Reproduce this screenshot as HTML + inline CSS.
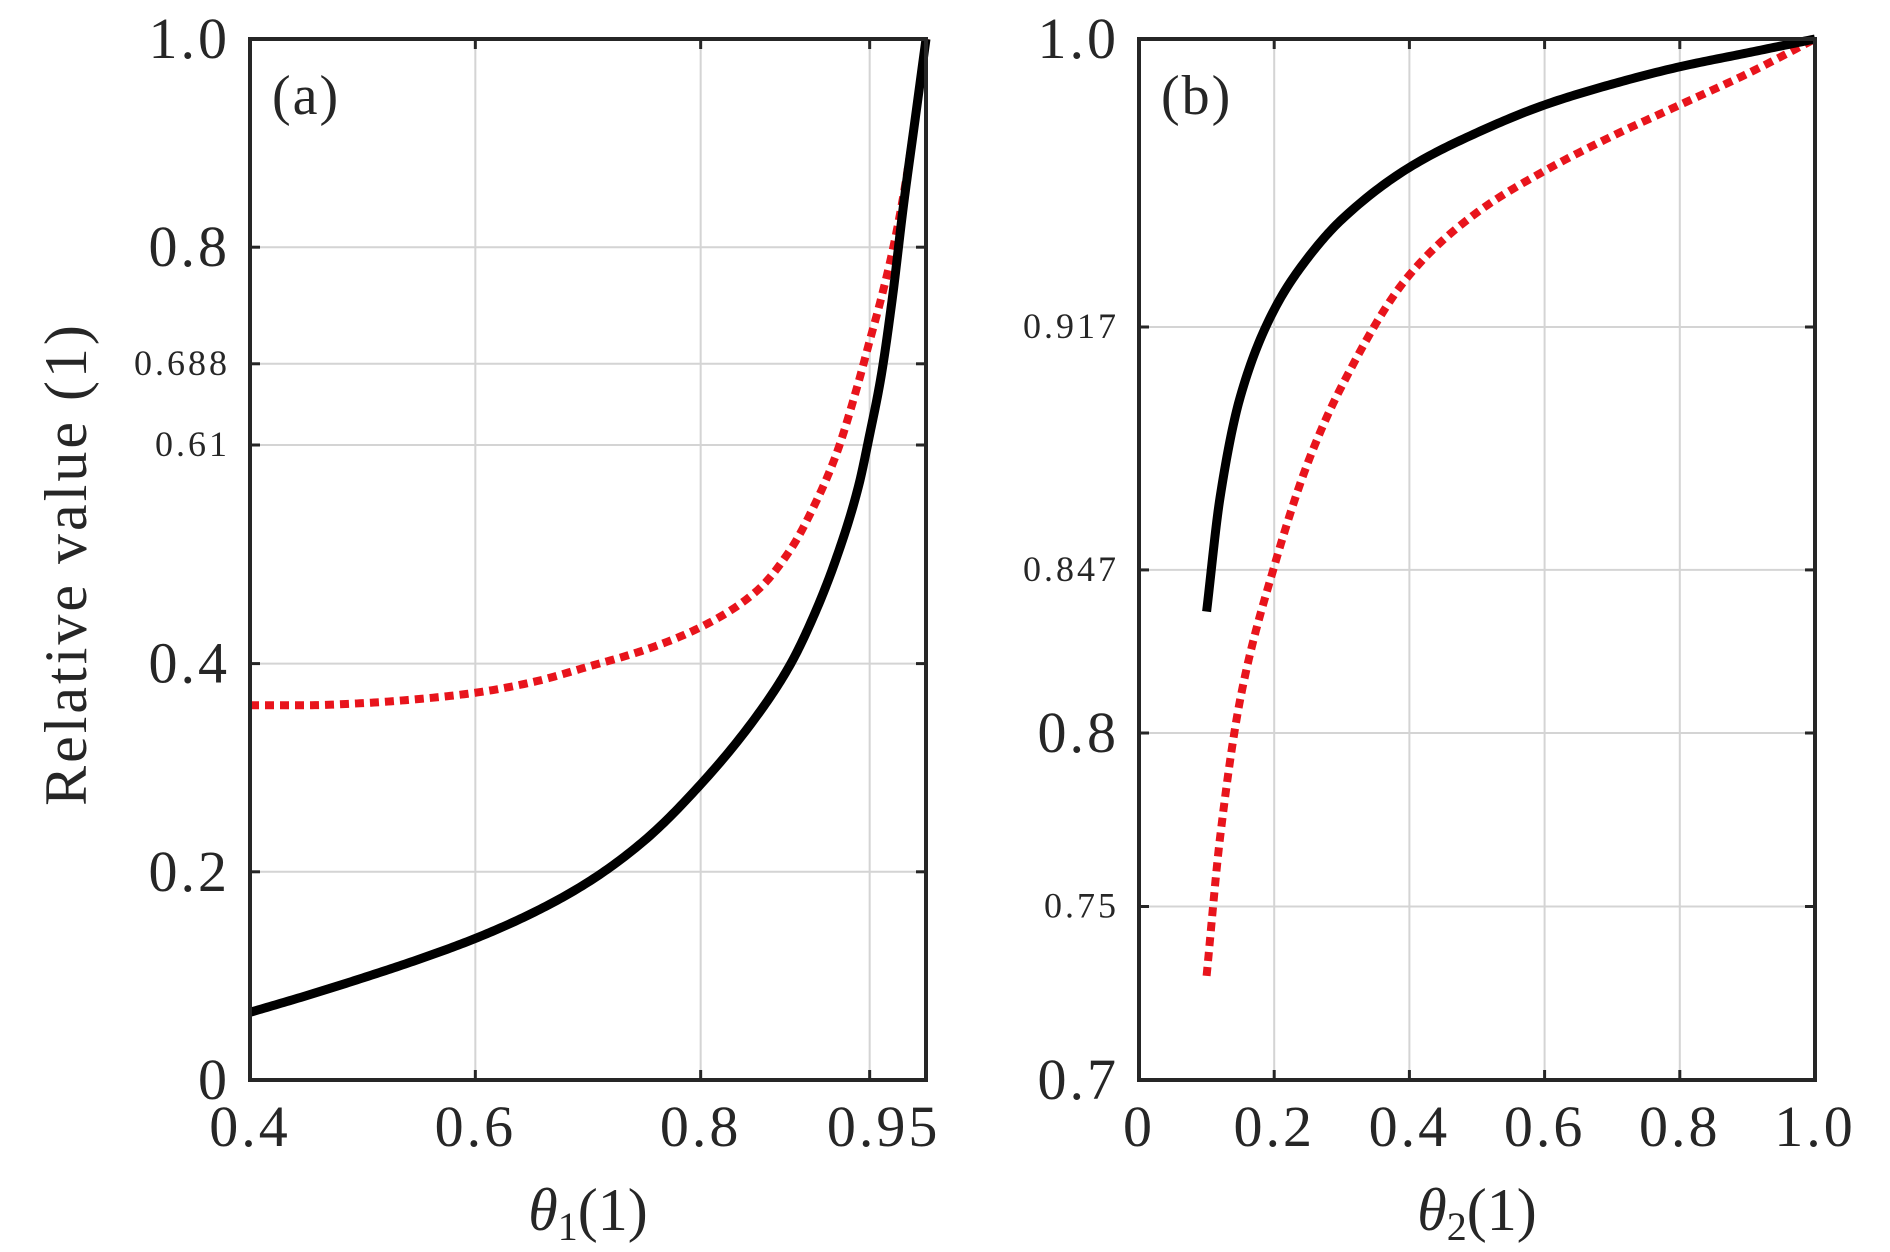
<!DOCTYPE html>
<html><head><meta charset="utf-8">
<style>
html,body{margin:0;padding:0;background:#fff;}
svg{display:block;font-family:"Liberation Serif",serif;}
</style></head>
<body>
<svg id="chart" width="1890" height="1252" viewBox="0 0 1890 1252"></svg>
<script>
// Panel (a)
const aX = [0.4,0.45,0.5,0.55,0.6,0.65,0.7,0.75,0.8,0.85,0.88,0.9,0.92,0.94,0.95,0.96,0.97,0.98,0.99,1.0];
const aBlack = [0.065,0.081,0.098,0.116,0.136,0.16,0.19,0.23,0.284,0.35,0.40,0.445,0.50,0.57,0.62,0.675,0.75,0.84,0.92,1.0];
const aRed = [0.36,0.36,0.362,0.366,0.372,0.382,0.397,0.413,0.435,0.47,0.51,0.55,0.60,0.67,0.71,0.75,0.795,0.85,0.92,1.0];
const aXTicks = [0.4,0.6,0.8,0.95];
const aXTickLabels = ["0.4","0.6","0.8","0.95"];
const aYTicks = [0,0.2,0.4,0.61,0.688,0.8,1.0];
const aYTickLabels = ["0","0.2","0.4","0.61","0.688","0.8","1.0"];
// Panel (b)
const bX = [0.1,0.12,0.15,0.2,0.25,0.3,0.4,0.5,0.6,0.7,0.8,0.9,1.0];
const bBlack = [0.835,0.868,0.897,0.922,0.937,0.948,0.963,0.973,0.981,0.987,0.992,0.996,1.0];
const bRed = [0.73,0.77,0.81,0.848,0.878,0.90,0.932,0.95,0.962,0.972,0.981,0.99,1.0];
const bXTicks = [0,0.2,0.4,0.6,0.8,1.0];
const bXTickLabels = ["0","0.2","0.4","0.6","0.8","1.0"];
const bYTicks = [0.7,0.75,0.8,0.847,0.917,1.0];
const bYTickLabels = ["0.7","0.75","0.8","0.847","0.917","1.0"];

const NS="http://www.w3.org/2000/svg";
const svg=document.getElementById('chart');
function mk(tag,attrs,parent){const e=document.createElementNS(NS,tag);for(const k in attrs)e.setAttribute(k,attrs[k]);(parent||svg).appendChild(e);return e;}
function curve(xs,ys,sx,sy){
  const n=xs.length,d=[],m=new Array(n);
  for(let i=0;i<n-1;i++)d.push((ys[i+1]-ys[i])/(xs[i+1]-xs[i]));
  m[0]=d[0];m[n-1]=d[n-2];
  for(let i=1;i<n-1;i++){if(d[i-1]*d[i]<=0)m[i]=0;else{const h0=xs[i]-xs[i-1],h1=xs[i+1]-xs[i];const w1=2*h1+h0,w2=h1+2*h0;m[i]=(w1+w2)/(w1/d[i-1]+w2/d[i]);}}
  let s="";
  for(let i=0;i<n-1;i++){const h=xs[i+1]-xs[i];for(let k=0;k<=20;k++){if(i>0&&k===0)continue;const t=k/20,t2=t*t,t3=t2*t;const y=(2*t3-3*t2+1)*ys[i]+(t3-2*t2+t)*h*m[i]+(-2*t3+3*t2)*ys[i+1]+(t3-t2)*h*m[i+1];const x=xs[i]+t*h;s+=(s?" L":"M")+sx(x).toFixed(2)+","+sy(y).toFixed(2);}}
  return s;
}

function panel(cfg){
  const {L,R,T,B,x0,x1,y0,y1,xs,black,red,xt,xtl,yt,ytl,big,label,sub,id}=cfg;
  const g=mk('g',{});
  
  
  const sx=v=>L+(v-x0)/(x1-x0)*(R-L);
  const sy=v=>B-(v-y0)/(y1-y0)*(B-T);
  xt.forEach((v,i)=>{
    const gl=mk('line',{x1:sx(v),x2:sx(v),y1:T,y2:B,stroke:'#d4d4d4','stroke-width':2},g);
    
    
    mk('line',{x1:sx(v),x2:sx(v),y1:B,y2:B-10,stroke:'#262626','stroke-width':3},g);
    mk('line',{x1:sx(v),x2:sx(v),y1:T,y2:T+10,stroke:'#262626','stroke-width':3},g);
    const t=mk('text',{x:sx(v)+(xtl[i]==="0.95"?14:0),y:B+66,'font-size':58,'letter-spacing':3,'text-anchor':'middle',fill:'#262626'},g);
    t.textContent=xtl[i];
    
    
  });
  yt.forEach((v,i)=>{
    const gl=mk('line',{x1:L,x2:R,y1:sy(v),y2:sy(v),stroke:'#d4d4d4','stroke-width':2},g);
    
    
    mk('line',{x1:L,x2:L+10,y1:sy(v),y2:sy(v),stroke:'#262626','stroke-width':3},g);
    mk('line',{x1:R,x2:R-10,y1:sy(v),y2:sy(v),stroke:'#262626','stroke-width':3},g);
    const isBig=big.includes(ytl[i]);
    const t=mk('text',{x:L-20,y:sy(v)+(isBig?19:11),'font-size':isBig?58:36,'letter-spacing':3,'text-anchor':'end',fill:'#262626'},g);
    t.textContent=ytl[i];
    
    
  });
  const pr=mk('path',{d:curve(xs,red,sx,sy),fill:'none',stroke:'#e8141c','stroke-width':8,'stroke-dasharray':'9 6'},g);
  
  
  const pb=mk('path',{d:curve(xs,black,sx,sy),fill:'none',stroke:'#000','stroke-width':9},g);
  
  
  const fr=mk('rect',{x:L,y:T,width:R-L,height:B-T,fill:'none',stroke:'#262626','stroke-width':4},g);
  
  
  const pl=mk('text',{x:L+22,y:T+75,'font-size':56,'letter-spacing':2,fill:'#262626'},g);
  pl.textContent=label;
  
  
  const xl=mk('text',{x:(L+R)/2,y:B+150,'font-size':60,'text-anchor':'middle',fill:'#262626'},g);
  
  
  const t1=mk('tspan',{'font-style':'italic'},xl);t1.textContent='θ';
  const t2=mk('tspan',{'font-size':40,dy:10},xl);t2.textContent=sub;
  const t3=mk('tspan',{dy:-10},xl);t3.textContent='(1)';
}
panel({id:'panel-a',L:250,R:926,T:39,B:1080,x0:0.4,x1:1.0,y0:0,y1:1,xs:aX,black:aBlack,red:aRed,xt:aXTicks,xtl:aXTickLabels,yt:aYTicks,ytl:aYTickLabels,big:["0","0.2","0.4","0.8","1.0"],label:'(a)',sub:'1'});
panel({id:'panel-b',L:1139,R:1815,T:39,B:1080,x0:0,x1:1.0,y0:0.7,y1:1.0,xs:bX,black:bBlack,red:bRed,xt:bXTicks,xtl:bXTickLabels,yt:bYTicks,ytl:bYTickLabels,big:["0.7","0.8","1.0"],label:'(b)',sub:'2'});
const yt=mk('text',{x:0,y:0,'font-size':60,'letter-spacing':3,'text-anchor':'middle',fill:'#262626',transform:'translate(86,564) rotate(-90)'});
yt.textContent='Relative value (1)';


</script>
</body></html>
